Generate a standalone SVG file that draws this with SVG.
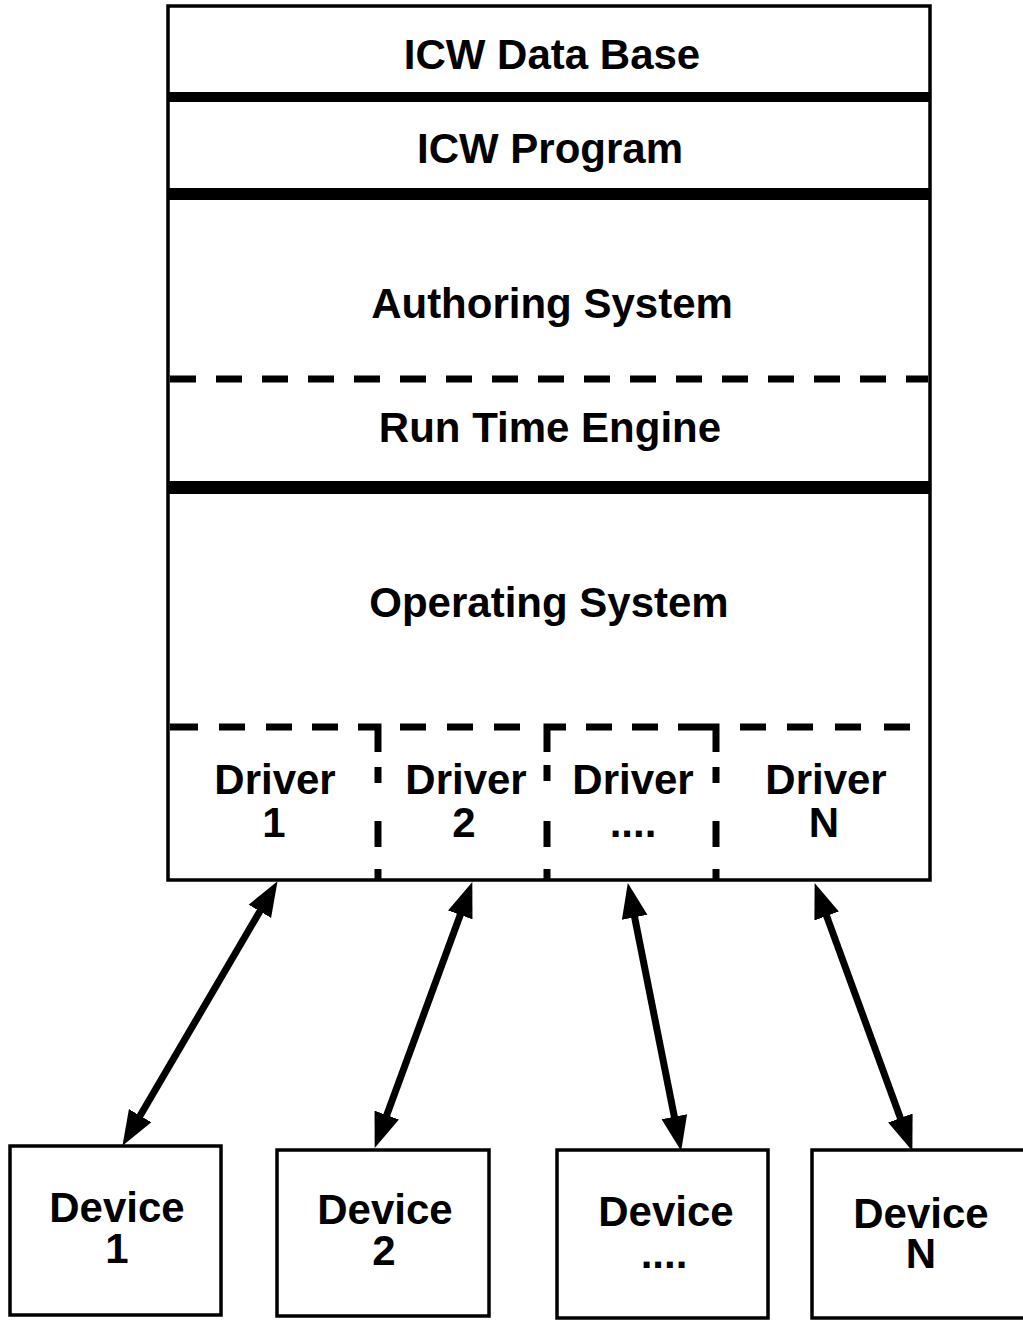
<svg xmlns="http://www.w3.org/2000/svg" width="1023" height="1321" viewBox="0 0 1023 1321">
<style>
.box{fill:#fff;stroke:#000;stroke-width:3.5}
.band{fill:#000}
.dash{fill:none;stroke:#000;stroke-width:7}
.t{font-family:"Liberation Sans",Arial,sans-serif;font-weight:bold;font-size:42px;fill:#000;text-anchor:middle}
.conn{stroke:#000;stroke-width:7;fill:none;marker-start:url(#ah);marker-end:url(#ah)}
</style>
<defs>
<marker id="ah" markerUnits="userSpaceOnUse" viewBox="0 -14 36 28" markerWidth="36" markerHeight="28" refX="10" refY="0" orient="auto-start-reverse">
<path d="M0,-13 L35,0 L0,13 z" fill="#000"/>
</marker>
</defs>
<rect width="1023" height="1321" fill="#fff"/>
<g id="stack">
<rect class="box" x="168" y="6" width="762" height="874"/>
<rect class="band" x="168" y="92" width="762" height="10"/>
<rect class="band" x="168" y="188" width="762" height="12"/>
<rect class="band" x="168" y="481" width="762" height="13"/>
<line class="dash" x1="170" y1="379" x2="928" y2="379" stroke-dasharray="26 20"/>
<path class="dash" d="M170,727 H198 M219,727 H245 M266,727 H292 M312,727 H338 M358,727 H378 V752 M378,767 V783 M378,821 V847 M378,869 V880 M400,727 H426 M447,727 H473 M494,727 H520 M547,880 V869 M547,847 V821 M547,781 V765 M547,752 V727 H566 M586,727 H612 M632,727 H658 M678,727 H716 V752 M716,767 V783 M716,821 V847 M716,869 V880 M740,727 H766 M787,727 H813 M835,727 H861 M884,727 H910"/>
</g>
<g id="layer-db"><text class="t" x="552" y="69">ICW Data Base</text></g>
<g id="layer-program"><text class="t" x="550" y="163">ICW Program</text></g>
<g id="layer-authoring"><text class="t" x="552" y="318">Authoring System</text></g>
<g id="layer-runtime"><text class="t" x="550" y="442">Run Time Engine</text></g>
<g id="layer-os"><text class="t" x="549" y="617">Operating System</text></g>
<g id="driver-1"><text class="t" x="275" y="794">Driver</text><text class="t" x="274" y="837">1</text></g>
<g id="driver-2"><text class="t" x="466" y="794">Driver</text><text class="t" x="464" y="837">2</text></g>
<g id="driver-n1"><text class="t" x="633" y="794">Driver</text><text class="t" x="633" y="837">....</text></g>
<g id="driver-n"><text class="t" x="826" y="794">Driver</text><text class="t" x="824" y="837">N</text></g>
<g id="device-1"><rect class="box" x="10" y="1146" width="211" height="169"/><text class="t" x="117" y="1222">Device</text><text class="t" x="117" y="1263">1</text></g>
<g id="device-2"><rect class="box" x="277" y="1150" width="212" height="166"/><text class="t" x="385" y="1224">Device</text><text class="t" x="384" y="1265">2</text></g>
<g id="device-n1"><rect class="box" x="557" y="1150" width="211" height="168"/><text class="t" x="666" y="1226">Device</text><text class="t" x="664" y="1268">....</text></g>
<g id="device-n"><rect class="box" x="812" y="1150" width="230" height="168"/><text class="t" x="921" y="1228">Device</text><text class="t" x="921" y="1268">N</text></g>
<g id="connectors">
<line class="conn" x1="264.9" y1="902.7" x2="135.1" y2="1124.3"/>
<line class="conn" x1="463.7" y1="905.5" x2="383.3" y2="1124.5"/>
<line class="conn" x1="632.7" y1="907.5" x2="676.3" y2="1126.5"/>
<line class="conn" x1="823.2" y1="906.6" x2="903.8" y2="1127.4"/>
</g>
</svg>
